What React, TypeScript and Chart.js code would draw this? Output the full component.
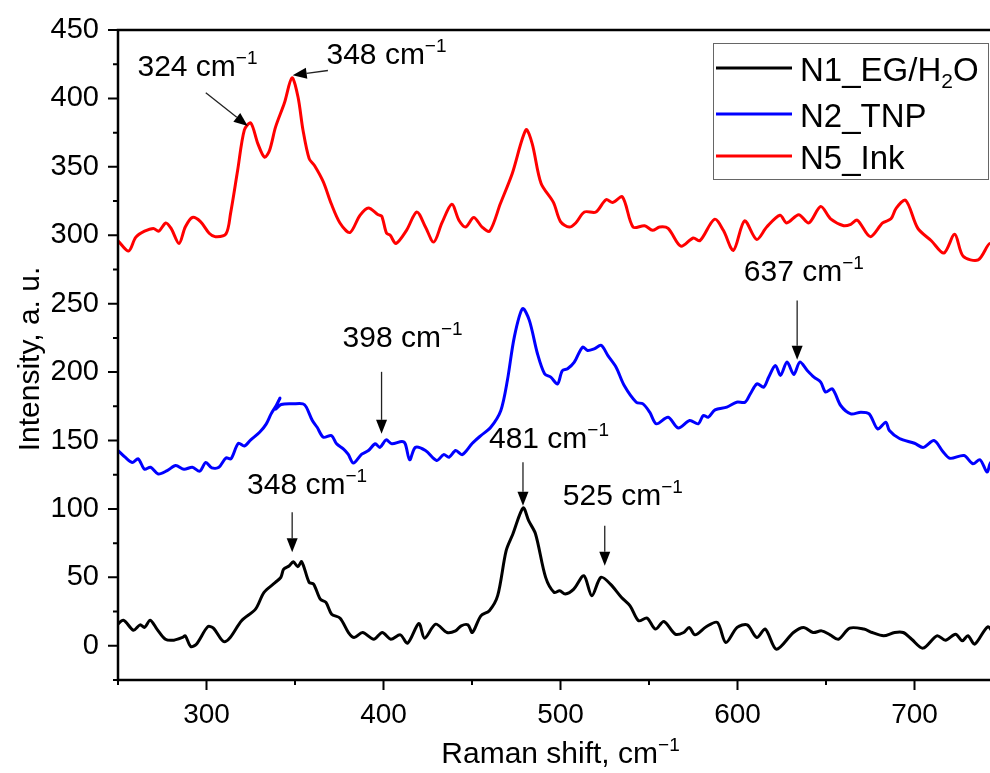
import React, { useEffect, useRef } from "react";
import { Chart, registerables } from "chart.js";
Chart.register(...registerables);

const FONT = '"Liberation Sans", Arial, sans-serif';
const CANVAS_W = 1010;
const CANVAS_H = 773;

const X_MIN = 250;
const X_MAX = 750;
const Y_MIN = -25;
const Y_MAX = 450;
const X_TICKS = [300, 400, 500, 600, 700];
const X_MINOR = [250, 350, 450, 550, 650, 750];
const Y_TICKS = [0, 50, 100, 150, 200, 250, 300, 350, 400, 450];
const Y_MINOR = [-25, 25, 75, 125, 175, 225, 275, 325, 375, 425];

const X_TITLE = "Raman shift, cm^{−1}";
const Y_TITLE = "Intensity, a. u.";

const SERIES_NAMES = ["N1_EG/H_{2}O", "N2_TNP", "N5_Ink"];
const SERIES_COLORS = ["#000000", "#0000ff", "#ff0000"];

// N1_EG/H2O (black)
const N1_X = [248.2, 253, 258.7, 262.5, 265, 268.2, 272, 276.8, 281.6, 286.4, 288, 291.1, 294.3, 300.7, 303.9, 309.6, 313.4, 319.8, 327.7, 332.5, 338.9, 342, 343.6, 346.8, 349, 351.6, 353.8, 358, 360.5, 364.3, 367.5, 370.7, 375.5, 380.2, 383.4, 388.2, 394.5, 399.3, 404.1, 409.5, 413.6, 420, 423.2, 429.5, 435.9, 440.7, 443.9, 447.7, 450.2, 455, 459.8, 464.5, 469.3, 473.1, 478.9, 482, 485.9, 491.6, 496.4, 499.5, 502.7, 507.5, 513.2, 517.7, 522.8, 528.2, 534.5, 539.3, 544.1, 548.9, 553.6, 558.4, 564.8, 569.6, 572.7, 576, 582.3, 588.6, 593.4, 599.8, 605.5, 610.9, 615.7, 622, 631.6, 637.3, 642.7, 647.5, 652.3, 657, 663.4, 671.4, 676.1, 682.5, 688.8, 693.6, 698.4, 704.8, 712.7, 717.5, 723.2, 727, 730.2, 734, 741.4, 745.5, 750];
const N1_Y = [13.4, 18.7, 11.4, 15.3, 13.4, 18.7, 12.2, 4.8, 4.1, 6.1, 7.3, -0.5, 1.2, 13.9, 12.9, 3.1, 6.1, 18.3, 26.8, 39, 46.3, 50, 56, 58.5, 61.4, 57.8, 61.4, 46.3, 45.1, 34.1, 31.7, 23.1, 20.2, 9.7, 6.1, 9.7, 4.8, 9.7, 4.8, 8, 1.9, 16.3, 5.6, 15.8, 9.7, 10.9, 14.6, 15.3, 9.7, 21.9, 25.6, 36.6, 69.5, 81.7, 100.7, 91.4, 81.7, 50, 39, 40.2, 37.8, 41.4, 51.2, 36.6, 50, 45.1, 35.3, 29.2, 18.3, 20.2, 12.2, 17.8, 8.5, 9.7, 13.4, 8, 13.9, 17.1, 2.4, 13.4, 15.3, 6.1, 12.2, -2.5, 9.7, 13.4, 9.7, 10.9, 8, 4.8, 12.9, 12.2, 9.7, 7.3, 9.7, 9.7, 4.8, -1.7, 7.3, 4.1, 8.5, 3.6, 7.3, 1.2, 13.9, 8, 10];

// N2_TNP (blue)
const N2_X = [250, 254, 258, 261.4, 265, 268.4, 272.7, 277.8, 282.6, 287.3, 292, 296.2, 299.6, 303, 307, 311, 313.8, 318, 321.4, 325, 330, 333.7, 336.5, 339.4, 341.5, 339, 342.2, 348.9, 354.5, 356.4, 359.8, 362.5, 366, 370.6, 373.5, 377.3, 380, 383, 387.7, 391.5, 395.3, 398, 401.5, 404.7, 410.4, 412.3, 414.8, 418, 423.7, 430, 434, 437, 440.8, 444.5, 450.2, 455, 460.6, 466.3, 470, 473.9, 478.6, 482.4, 487, 491, 494.5, 498.3, 501, 504, 507.8, 512.5, 515.3, 519, 523, 526.7, 531.4, 536, 542.8, 546.6, 550.4, 554.2, 560.8, 566.5, 573, 577.8, 580.7, 583.5, 587.3, 594, 599.5, 604.3, 607.2, 611, 614.8, 617.6, 621.4, 624.3, 628, 631.8, 635.2, 639.4, 643.2, 647, 649.8, 653.6, 658.3, 664, 669.7, 674.4, 679.2, 683.8, 685.8, 691.5, 700, 705, 711, 716, 720, 728, 733, 737, 741, 743, 745.5, 750];
const N2_Y = [142.7, 137.8, 134, 136.6, 129, 130.5, 125.6, 128, 131.7, 129, 130.5, 127.6, 134, 130, 130.5, 137.3, 136.6, 148, 146, 150.5, 156, 162, 169.5, 175.6, 181, 173, 176.3, 176.8, 176.8, 174.4, 164.6, 159.7, 152.4, 153.6, 147.6, 143.9, 140, 133.5, 140, 142.7, 147.6, 145, 150.5, 147.6, 149.3, 147.6, 135.9, 145, 142.7, 135.4, 139.7, 137.8, 142.7, 139.7, 148, 153.6, 159.7, 172, 194, 225.6, 246.4, 237.8, 213.4, 198.8, 196.3, 191.4, 201, 202.5, 207.3, 218.3, 215.8, 217, 219.5, 212.2, 203.6, 190.2, 178, 176.8, 170.7, 162.2, 167, 159.2, 164.6, 162.2, 168.3, 167, 172.4, 174.4, 178, 178, 184, 191.4, 189, 196.3, 204.9, 197.6, 207.3, 198.3, 207.3, 201.2, 196.3, 192.7, 185.4, 187.8, 175.6, 169.5, 170.7, 169.5, 158.5, 163.4, 157.3, 151.5, 148, 145, 150, 142, 137, 139, 133, 136, 127, 134, 127, 130];

// N5_Ink (red)
const N5_X = [250, 256, 260, 265, 270, 273, 277, 280, 284.5, 288, 292, 296.6, 301.5, 305, 311, 313.6, 317.6, 321.4, 325, 329, 332.8, 335.6, 339, 344, 348.3, 351.7, 354.5, 358, 361, 366, 370.5, 375.4, 381, 386.7, 391.5, 397, 399, 401.7, 403.8, 407, 413, 418.8, 423.7, 428.4, 433, 438.6, 442.6, 446.4, 451, 455.7, 460, 466, 472.7, 480.5, 484, 489, 496, 500, 505, 508.6, 513.5, 520, 525.7, 529.5, 535, 541, 547.5, 552, 556, 560.8, 568, 575, 578.8, 587, 592, 597.7, 604, 610.8, 616.5, 624, 627.8, 634.6, 640.3, 647, 652.6, 660, 664, 667.7, 675, 682, 686.7, 689.6, 695, 701.9, 709.5, 716.6, 722.7, 727.5, 736, 742.6, 745.5, 750];
const N5_Y = [296, 288.5, 298.5, 303, 305, 303, 309, 305, 294, 306, 313, 310, 301.5, 299, 301, 316, 347.5, 377, 382, 367, 357, 362, 379, 396.6, 415, 401, 377, 356, 351, 339, 323, 309, 302, 314.6, 320, 315, 314, 301.5, 300, 294, 303.6, 317, 306, 295, 309, 322.7, 311, 306, 313, 306, 303, 323, 345, 377, 367, 338, 324, 310, 306, 309, 317, 317, 326, 324, 328, 306, 307, 303.6, 306, 305, 292, 298, 296, 311.7, 303.6, 289, 310.5, 297, 306, 314.6, 309, 315, 309, 321, 312, 307, 308, 311, 299, 309, 312, 319.7, 325.6, 305, 296, 287, 300.7, 284.6, 282, 294, 281.7, 276];

// Peak annotations (data coordinates)
const ANNOT_LABELS = ["324 cm^{−1}", "348 cm^{−1}", "398 cm^{−1}", "637 cm^{−1}", "348 cm^{−1}", "481 cm^{−1}", "525 cm^{−1}"];
const ANNOT_TEXT_X = [294.9, 401.7, 410.8, 637.5, 356.8, 493.5, 535.2];
const ANNOT_TEXT_Y = [424.4, 433.2, 226, 274.4, 118.5, 152.4, 110.5];
const ARROW_FROM_X = [299.6, 368.6, 398.9, 633.7, 348.4, 478.8, 525];
const ARROW_FROM_Y = [404.2, 420.4, 200.2, 252.4, 97.5, 134.1, 87.8];
const ARROW_TO_X = [323.3, 348.7, 398.9, 633.7, 348.4, 478.8, 525];
const ARROW_TO_Y = [379.8, 417, 154.9, 209, 68.3, 102.4, 58.5];

function pts(xs: number[], ys: number[]) {
  return xs.map((x, i) => ({ x, y: ys[i] }));
}

function parseRich(text: string) {
  const segs: { t: string; k: string }[] = [];
  text.split(/(\^\{[^}]*\}|_\{[^}]*\})/).forEach((p) => {
    if (!p) return;
    if (p.startsWith("^{")) segs.push({ t: p.slice(2, -1), k: "sup" });
    else if (p.startsWith("_{")) segs.push({ t: p.slice(2, -1), k: "sub" });
    else segs.push({ t: p, k: "n" });
  });
  return segs;
}

function drawRich(ctx: CanvasRenderingContext2D, text: string, x: number, y: number, size: number, align: string) {
  const segs = parseRich(text);
  const small = Math.round(size * 0.64);
  const widths = segs.map((s) => {
    ctx.font = `${s.k === "n" ? size : small}px ${FONT}`;
    return ctx.measureText(s.t).width;
  });
  const total = widths.reduce((a, b) => a + b, 0);
  let cx = align === "center" ? x - total / 2 : align === "right" ? x - total : x;
  const base = y + size * 0.36;
  ctx.textAlign = "left";
  ctx.textBaseline = "alphabetic";
  segs.forEach((s, i) => {
    ctx.font = `${s.k === "n" ? size : small}px ${FONT}`;
    let by = base;
    if (s.k === "sup") by = base - size * 0.4;
    if (s.k === "sub") by = base + size * 0.22;
    ctx.fillText(s.t, cx, by);
    cx += widths[i];
  });
}

const decorPlugin = {
  id: "decor",
  afterDraw(chart: any) {
    const { ctx, chartArea: a } = chart;
    const xs = chart.scales.x;
    const ys = chart.scales.y;
    ctx.save();
    ctx.fillStyle = "#000";
    ctx.strokeStyle = "#000";

    // frame
    ctx.lineWidth = 2.5;
    ctx.strokeRect(a.left, a.top, a.right - a.left, a.bottom - a.top);

    // ticks
    ctx.lineWidth = 2;
    ctx.beginPath();
    X_TICKS.forEach((v) => {
      const p = xs.getPixelForValue(v);
      ctx.moveTo(p, a.bottom);
      ctx.lineTo(p, a.bottom + 10);
    });
    X_MINOR.forEach((v) => {
      const p = xs.getPixelForValue(v);
      ctx.moveTo(p, a.bottom);
      ctx.lineTo(p, a.bottom + 5);
    });
    Y_TICKS.forEach((v) => {
      const p = ys.getPixelForValue(v);
      ctx.moveTo(a.left, p);
      ctx.lineTo(a.left - 10, p);
    });
    Y_MINOR.forEach((v) => {
      const p = ys.getPixelForValue(v);
      ctx.moveTo(a.left, p);
      ctx.lineTo(a.left - 5, p);
    });
    ctx.stroke();

    // axis titles
    drawRich(ctx, X_TITLE, (a.left + a.right) / 2, 752, 30, "center");
    ctx.save();
    ctx.translate(28, (a.top + a.bottom) / 2 + 4);
    ctx.rotate(-Math.PI / 2);
    drawRich(ctx, Y_TITLE, 0, 0, 30, "center");
    ctx.restore();

    // annotations
    ANNOT_LABELS.forEach((lab, i) => {
      const tx = xs.getPixelForValue(ANNOT_TEXT_X[i]);
      const ty = ys.getPixelForValue(ANNOT_TEXT_Y[i]);
      ctx.fillStyle = "#000";
      drawRich(ctx, lab, tx, ty, 30, "center");
      const x0 = xs.getPixelForValue(ARROW_FROM_X[i]);
      const y0 = ys.getPixelForValue(ARROW_FROM_Y[i]);
      const x1 = xs.getPixelForValue(ARROW_TO_X[i]);
      const y1 = ys.getPixelForValue(ARROW_TO_Y[i]);
      const ang = Math.atan2(y1 - y0, x1 - x0);
      const hl = 14;
      const hw = 5.5;
      const bx = x1 - hl * Math.cos(ang);
      const by = y1 - hl * Math.sin(ang);
      ctx.strokeStyle = "#222";
      ctx.lineWidth = 1.3;
      ctx.beginPath();
      ctx.moveTo(x0, y0);
      ctx.lineTo(bx, by);
      ctx.stroke();
      ctx.fillStyle = "#000";
      ctx.beginPath();
      ctx.moveTo(x1, y1);
      ctx.lineTo(bx + hw * Math.sin(ang), by - hw * Math.cos(ang));
      ctx.lineTo(bx - hw * Math.sin(ang), by + hw * Math.cos(ang));
      ctx.closePath();
      ctx.fill();
    });

    // legend
    const lx = 713;
    const ly = 43;
    const lw = 275;
    const lh = 136;
    ctx.fillStyle = "#fff";
    ctx.fillRect(lx, ly, lw, lh);
    ctx.strokeStyle = "#666";
    ctx.lineWidth = 1;
    ctx.strokeRect(lx + 0.5, ly + 0.5, lw, lh);
    const rows = [68, 114, 156];
    SERIES_NAMES.forEach((name, i) => {
      ctx.strokeStyle = SERIES_COLORS[i];
      ctx.lineWidth = 3;
      ctx.beginPath();
      ctx.moveTo(716, rows[i]);
      ctx.lineTo(792, rows[i]);
      ctx.stroke();
      ctx.fillStyle = "#000";
      drawRich(ctx, name, 800, rows[i] + 1, 33, "left");
    });
    ctx.restore();
  },
};

export default function App() {
  const ref = useRef<HTMLCanvasElement | null>(null);
  useEffect(() => {
    if (!ref.current) return;
    const datasets = [
      { data: pts(N1_X, N1_Y) },
      { data: pts(N2_X, N2_Y) },
      { data: pts(N5_X, N5_Y) },
    ].map((d, i) => ({
      label: SERIES_NAMES[i],
      data: d.data,
      borderColor: SERIES_COLORS[i],
      backgroundColor: SERIES_COLORS[i],
      borderWidth: 3,
      pointRadius: 0,
      tension: 0.3,
      fill: false,
    }));
    const chart = new Chart(ref.current, {
      type: "line",
      data: { datasets },
      options: {
        animation: false,
        responsive: false,
        devicePixelRatio: 1,
        layout: { padding: { left: 0, top: 30, right: CANVAS_W - 1003, bottom: 0 } },
        plugins: { legend: { display: false }, tooltip: { enabled: false } },
        scales: {
          x: {
            type: "linear",
            min: X_MIN,
            max: X_MAX,
            grid: { display: false },
            border: { display: false },
            afterBuildTicks: (s: any) => {
              s.ticks = X_TICKS.map((v) => ({ value: v }));
            },
            afterFit: (s: any) => {
              s.height = 93;
            },
            ticks: {
              autoSkip: false,
              maxRotation: 0,
              padding: 10,
              color: "#000",
              font: { family: FONT, size: 28 },
            },
          },
          y: {
            type: "linear",
            min: Y_MIN,
            max: Y_MAX,
            grid: { display: false },
            border: { display: false },
            afterBuildTicks: (s: any) => {
              s.ticks = Y_TICKS.map((v) => ({ value: v }));
            },
            afterFit: (s: any) => {
              s.width = 118;
            },
            ticks: {
              padding: 11,
              color: "#000",
              font: { family: FONT, size: 29 },
            },
          },
        },
      },
      plugins: [decorPlugin],
    });
    return () => chart.destroy();
  }, []);
  return (
    <div style={{ position: "fixed", left: 0, top: 0, width: 990, height: 773, overflow: "hidden", background: "#fff" }}>
      <canvas ref={ref} width={CANVAS_W} height={CANVAS_H} style={{ width: CANVAS_W, height: CANVAS_H, display: "block" }} />
    </div>
  );
}
